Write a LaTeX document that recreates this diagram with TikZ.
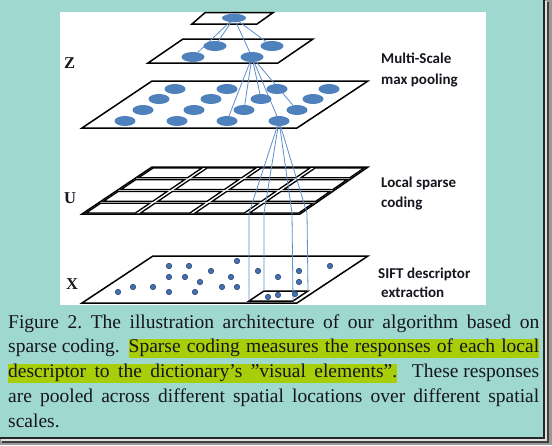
\documentclass[tikz,border=0pt]{standalone}
\usepackage{fontspec}
\setmainfont{Liberation Serif}
\newfontfamily\lblfont{Carlito}
\usetikzlibrary{shapes.geometric}
\definecolor{teal1}{RGB}{158,216,206}
\definecolor{hlc}{RGB}{168,206,10}
\definecolor{eblue}{RGB}{79,129,189}
\definecolor{lblue}{RGB}{95,142,205}
\definecolor{dfill}{RGB}{66,114,180}
\definecolor{ddraw}{RGB}{40,66,110}
\definecolor{txt}{RGB}{22,22,30}
\pgfdeclarelayer{back}
\pgfdeclarelayer{wires}
\pgfsetlayers{back,wires,main}
\newcommand\hlbox[2]{{\fboxsep=0pt\colorbox{hlc}{\hbox to #1{\rule[-5.5pt]{0pt}{18.5pt}#2}}}}
\frenchspacing
\begin{document}
\begin{tikzpicture}[x=1pt,y=-1pt,
  plane/.style={draw=black,line width=1.5pt,line join=miter,fill=white},
  ucell/.style={draw=black,line width=1.3pt,line join=miter},
  blob/.style={ellipse,fill=eblue,draw=none,minimum width=23pt,minimum height=10pt,inner sep=0pt},
  sblob/.style={blob,minimum width=21pt},
  conn/.style={draw=lblue,line width=0.8pt},
  dotn/.style={circle,fill=dfill,draw=ddraw,line width=0.6pt,minimum size=5.4pt,inner sep=0pt},
  lbl/.style={font=\lblfont\bfseries\fontsize{15}{18}\selectfont,anchor=base west,inner sep=0pt,text=txt},
  axl/.style={font=\bfseries\fontsize{16.5}{20}\selectfont,anchor=base west,inner sep=0pt,text=txt},
  captxt/.style={font=\fontsize{19.5}{24}\selectfont,anchor=base west,inner sep=0pt,text=txt}]
\useasboundingbox (0,0) rectangle (552,445);
\begin{pgfonlayer}{back}
  % panel and shadow
  \fill[black!40] (543,0) rectangle (552,445);
  \fill[black!40] (0,437) rectangle (552,445);
  \fill[teal1] (0,0) rectangle (543,437);
  \draw[black!85,line width=2pt] (544,0) -- (544,438) -- (0,438);
  \draw[black!12,line width=1.6pt] (546,1) -- (546,440) -- (1,440);
  \draw[black!75,line width=2pt] (548,2) -- (548,442) -- (2,442);
  \fill[white] (60,11.5) rectangle (486,305);
  % planes
  \draw[plane] (192,24) -- (257,24) -- (273,12.7) -- (205,12.7) -- cycle;
  \draw[plane] (148,63) -- (278,63) -- (313,39) -- (183,39) -- cycle;
  \draw[plane] (82,128) -- (297,128) -- (368,81) -- (152,81) -- cycle;
  \draw[plane] (82,214) -- (300,214) -- (368,167) -- (152,167) -- cycle;
  \foreach \i in {0,1,2,3}{\foreach \j in {0,1,2,3}{
    \pgfmathsetmacro\sa{\i/4+0.012}\pgfmathsetmacro\sb{(\i+1)/4-0.012}
    \pgfmathsetmacro\ta{\j/4+0.022}\pgfmathsetmacro\tb{(\j+1)/4-0.022}
    \draw[ucell] ({(1-\ta)*(82+218*\sa)+\ta*(152+216*\sa)},{214-47*\ta})
      -- ({(1-\ta)*(82+218*\sb)+\ta*(152+216*\sb)},{214-47*\ta})
      -- ({(1-\tb)*(82+218*\sb)+\tb*(152+216*\sb)},{214-47*\tb})
      -- ({(1-\tb)*(82+218*\sa)+\tb*(152+216*\sa)},{214-47*\tb}) -- cycle;
  }}
  \draw[plane] (82,303) -- (297,303) -- (368,256) -- (153,256) -- cycle;
  \coordinate (r1) at (249,301);
  \coordinate (r2) at (264,291);
  \coordinate (r3) at (293,301);
  \coordinate (r4) at (308,291);
  \draw[plane] (r1) -- (r3) -- (r4) -- (r2) -- cycle;
\end{pgfonlayer}
% ellipses
\node[blob,minimum width=24pt,minimum height=8.5pt] (t) at (234,18) {};
\node[blob] (b1) at (215,46) {};
\node[blob] (b2) at (272,46) {};
\node[blob] (b3) at (193,57) {};
\node[blob] (b4) at (252,57) {};
\foreach \x [count=\k] in {175,227,277,329}{\node[sblob] (c1\k) at (\x,89) {};}
\foreach \x [count=\k] in {159,211,261,313}{\node[sblob] (c2\k) at (\x,99) {};}
\foreach \x [count=\k] in {143,194,244,297}{\node[sblob] (c3\k) at (\x,110) {};}
\foreach \x [count=\k] in {125,177,227,279}{\node[sblob] (c4\k) at (\x,121) {};}
% dots
\foreach \x/\y [count=\k] in {169/266,189/266,237/261,330/266,211/271,258/271,299/271,
  169/277,185/277,231/277,278/277,200/282,299/282,118/292,133/287,153/287,169/292,
  195/292,222/287,237/287,268/297,278/295,295/294}{\node[dotn] (d\k) at (\x,\y) {};}
% connectors
\coordinate (f1) at (249,213);
\coordinate (f2) at (264,213);
\coordinate (f3) at (292,213);
\coordinate (f4) at (307,213);
\begin{pgfonlayer}{wires}
  \foreach \n in {b1,b2,b3,b4}{\draw[conn] (t) -- (\n);}
  \foreach \n in {c43,c33,c23,c34,c44}{\draw[conn] (b4) -- (\n);}
  \foreach \k in {1,2,3,4}{\draw[conn] (c44) -- (f\k) -- (r\k);}
\end{pgfonlayer}
% labels
\node[axl] (lz) at (64,68) {Z};
\node[axl] (lu) at (64,203) {U};
\node[axl] (lx) at (66,289) {X};
\node[lbl] (m1) at (381,63.5) {Multi-Scale};
\node[lbl] (m2) at (381,84) {max pooling};
\node[lbl] (s1) at (381,187) {Local sparse};
\node[lbl] (s2) at (381,207) {coding};
\node[lbl] (x1) at (378,278) {SIFT descriptor};
\node[lbl] (x2) at (381,297) {extraction};
% caption
\node[captxt] (cap1) at (8,328) {\hbox to 531pt{Figure 2. The illustration architecture of our algorithm based on}};
\node[captxt] (cap2) at (8,352.75) {\hbox to 531pt{sparse coding.\hfil\hlbox{410.5pt}{Sparse coding measures the responses of each local}}};
\node[captxt] (cap3) at (8,377.5) {\hbox to 531pt{\hlbox{389pt}{descriptor to the dictionary’s ”visual elements”.}\hfil These responses}};
\node[captxt] (cap4) at (8,402.25) {\hbox to 531pt{are pooled across different spatial locations over different spatial}};
\node[captxt] (cap5) at (8,427) {scales.};
\end{tikzpicture}
\end{document}
